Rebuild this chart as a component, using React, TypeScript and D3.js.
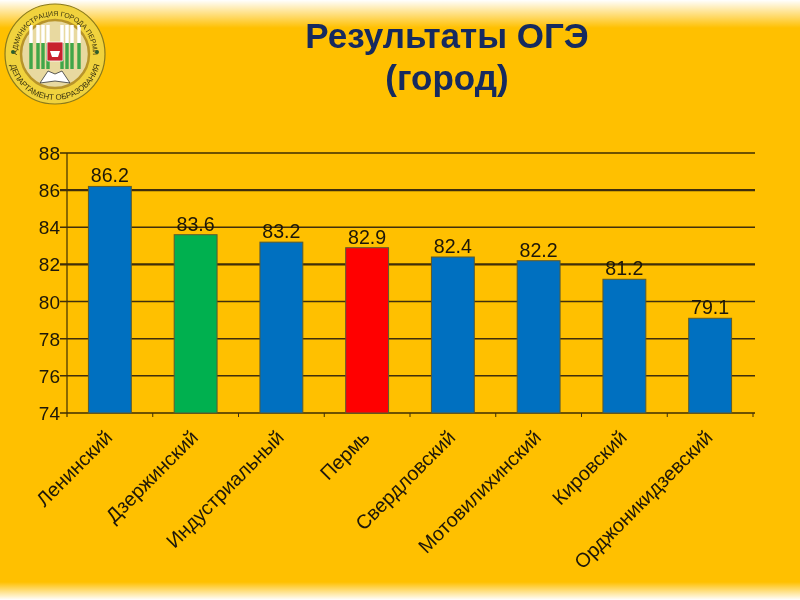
import { useRef, useEffect } from 'react';
import * as d3 from 'd3';

const CATEGORIES = ['Ленинский', 'Дзержинский', 'Индустриальный', 'Пермь', 'Свердловский', 'Мотовилихинский', 'Кировский', 'Орджоникидзевский'];
const VALUES = [86.2, 83.6, 83.2, 82.9, 82.4, 82.2, 81.2, 79.1];
const BAR_COLORS = ['#0070c0', '#00b050', '#0070c0', '#ff0000', '#0070c0', '#0070c0', '#0070c0', '#0070c0'];
const Y_TICKS = [74, 76, 78, 80, 82, 84, 86, 88];
const TITLE_LINES = ['Результаты ОГЭ', '(город)'];
const LOGO_TOP = 'АДМИНИСТРАЦИЯ ГОРОДА ПЕРМИ';
const LOGO_BOTTOM = 'ДЕПАРТАМЕНТ ОБРАЗОВАНИЯ';
const LOGO_STRIPES = [-24, -17, -12, -7, 7, 12, 17, 24];

const W = 800, H = 600;
const FONT = '"Liberation Sans", Arial, sans-serif';
const INK = '#1c1608';

export default function App() {
  const ref = useRef<SVGSVGElement>(null);

  useEffect(() => {
    const el = ref.current;
    if (!el) return;
    const svg = d3.select(el);
    svg.selectAll('*').remove();

    const padL = 67, padR = 47, padT = 153, padB = 187;
    const x = d3.scaleBand().domain(CATEGORIES).range([padL, W - padR]).paddingInner(0.5).paddingOuter(0.25);
    const y = d3.scaleLinear().domain([74, 88]).range([H - padB, padT]);

    const defs = svg.append('defs');
    const g0 = defs.append('linearGradient').attr('id', 'fadeTop').attr('x1', 0).attr('y1', 0).attr('x2', 0).attr('y2', 1);
    g0.append('stop').attr('offset', 0).attr('stop-color', '#fff').attr('stop-opacity', 1);
    g0.append('stop').attr('offset', 1).attr('stop-color', '#fff').attr('stop-opacity', 0);
    defs.append('filter').attr('id', 'soft').append('feGaussianBlur').attr('stdDeviation', 0.45);

    svg.append('rect').attr('width', W).attr('height', H).attr('fill', '#ffc000');

    // Edge fade
    svg.append('rect').attr('width', W).attr('height', 28).attr('fill', 'url(#fadeTop)');
    svg.append('rect').attr('width', W).attr('height', 18).attr('fill', 'url(#fadeTop)')
      .attr('transform', `translate(0,${H}) scale(1,-1)`);

    const root = svg.append('g').attr('filter', 'url(#soft)');

    // Title
    TITLE_LINES.forEach((t, i) => {
      root.append('text').attr('x', 447).attr('y', 48 + i * 42).attr('text-anchor', 'middle')
        .attr('font-family', FONT).attr('font-size', 35).attr('font-weight', 'bold')
        .attr('fill', '#12295e').text(t);
    });

    // Logo
    const logo = root.append('g').attr('transform', 'translate(55,54)');
    logo.append('circle').attr('r', 50).attr('fill', '#f0d23c').attr('stroke', '#8a7a1c').attr('stroke-width', 1.2);
    logo.append('circle').attr('r', 34).attr('fill', '#e8d9a0').attr('stroke', '#b8942a').attr('stroke-width', 2.5);
    LOGO_STRIPES.forEach((dx) => {
      logo.append('rect').attr('x', dx - 1.7).attr('y', -29).attr('width', 3.4).attr('height', 18).attr('fill', '#fff');
      logo.append('rect').attr('x', dx - 1.7).attr('y', -11).attr('width', 3.4).attr('height', 26).attr('fill', '#3fa648');
    });
    logo.append('rect').attr('x', -8).attr('y', -12).attr('width', 16).attr('height', 19).attr('rx', 1).attr('fill', '#c8202f').attr('stroke', '#fff').attr('stroke-width', 0.8);
    logo.append('path').attr('d', 'M-5,-3 L5,-3 L3,3 L-3,3 Z').attr('fill', '#fff');
    logo.append('path').attr('d', 'M-15,29 L-7,17 L0,20 L7,17 L15,29 L0,27 Z').attr('fill', '#fff').attr('stroke', '#333').attr('stroke-width', 0.8);
    logo.append('path').attr('id', 'logoTop').attr('d', 'M-38,0 A38,38 0 0 1 38,0').attr('fill', 'none');
    logo.append('path').attr('id', 'logoBottom').attr('d', 'M-46,0 A46,46 0 0 0 46,0').attr('fill', 'none');
    logo.append('text').attr('font-family', FONT).attr('font-size', 7).attr('fill', '#3a3410')
      .append('textPath').attr('href', '#logoTop').attr('startOffset', '50%').attr('text-anchor', 'middle').text(LOGO_TOP);
    logo.append('text').attr('font-family', FONT).attr('font-size', 8).attr('fill', '#3a3410')
      .append('textPath').attr('href', '#logoBottom').attr('startOffset', '50%').attr('text-anchor', 'middle').text(LOGO_BOTTOM);
    logo.append('circle').attr('cx', -42).attr('cy', -2).attr('r', 2).attr('fill', '#2c5e2e');
    logo.append('circle').attr('cx', 42).attr('cy', -2).attr('r', 2).attr('fill', '#2c5e2e');

    // Grid
    Y_TICKS.forEach((v) => {
      root.append('line').attr('x1', padL - 7).attr('x2', W - padR + 2).attr('y1', y(v)).attr('y2', y(v))
        .attr('stroke', '#3f2f08').attr('stroke-width', v === 86 || v === 82 ? 2.2 : 1.5);
      root.append('text').attr('x', padL - 7).attr('y', y(v) + 7).attr('text-anchor', 'end')
        .attr('font-family', FONT).attr('font-size', 19).attr('fill', INK).text(v);
    });
    root.append('line').attr('x1', padL).attr('x2', padL).attr('y1', padT).attr('y2', H - padB + 4)
      .attr('stroke', '#3f2f08').attr('stroke-width', 1.2);

    // Category ticks
    const step = x.step();
    CATEGORIES.forEach((c) => {
      const tx = x(c)! + x.bandwidth() / 2 + step / 2;
      root.append('line').attr('x1', tx).attr('x2', tx).attr('y1', H - padB).attr('y2', H - padB + 4)
        .attr('stroke', '#3f2f08').attr('stroke-width', 1);
    });

    // Bars
    CATEGORIES.forEach((c, i) => {
      root.append('rect').attr('x', x(c)!).attr('y', y(VALUES[i]))
        .attr('width', x.bandwidth()).attr('height', y(74) - y(VALUES[i]))
        .attr('fill', BAR_COLORS[i]).attr('stroke', '#5a5a30').attr('stroke-width', 1);
      root.append('text').attr('x', x(c)! + x.bandwidth() / 2).attr('y', y(VALUES[i]) - 4)
        .attr('text-anchor', 'middle').attr('font-family', FONT).attr('font-size', 19.6)
        .attr('fill', INK).text(VALUES[i].toFixed(1));
      // Rotated category label
      const lx = x(c)! + x.bandwidth() / 2;
      const ly = H - padB + 22;
      root.append('text').attr('transform', `translate(${lx},${ly}) rotate(-45)`)
        .attr('text-anchor', 'end').attr('dominant-baseline', 'middle')
        .attr('font-family', FONT).attr('font-size', 19.8).attr('fill', INK).text(c);
    });
  }, []);

  return <svg ref={ref} width={W} height={H} viewBox={`0 0 ${W} ${H}`} style={{ position: 'absolute', left: 0, top: 0 }} />;
}
